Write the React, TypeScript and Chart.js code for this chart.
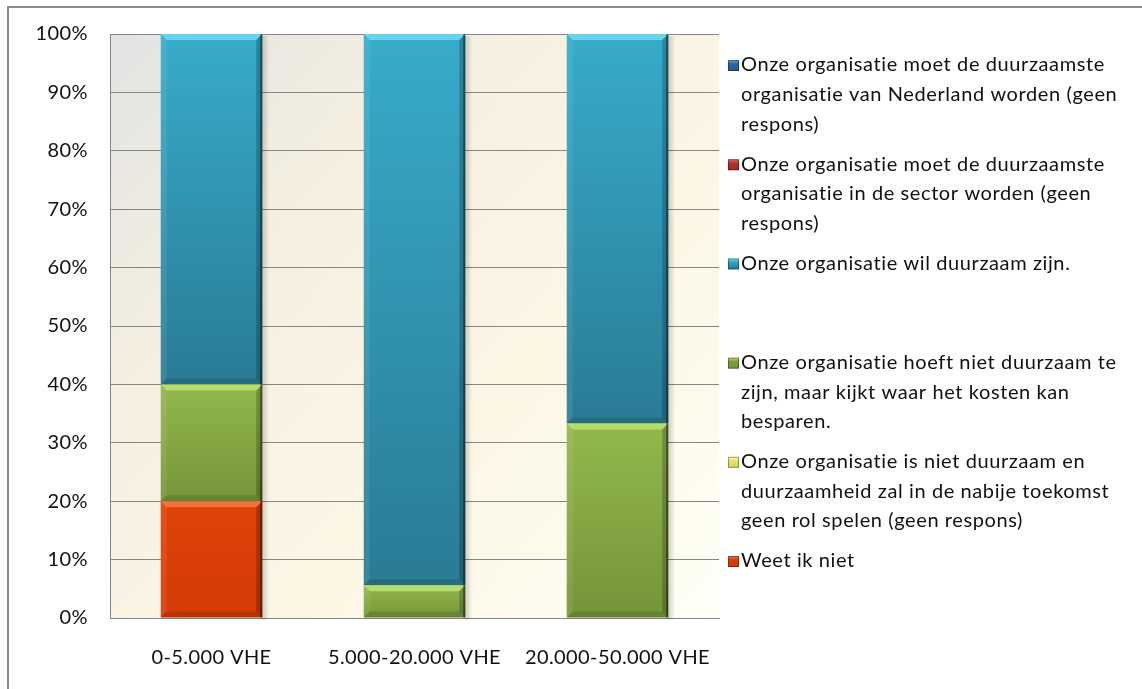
import React, { useEffect, useRef } from 'react';
import { Chart, registerables } from 'chart.js';

Chart.register(...registerables);

// ---- data ----
const categories = ['0-5.000 VHE', '5.000-20.000 VHE', '20.000-50.000 VHE'];
const weetIkNiet = [20, 0, 0];
const nietDuurzaam = [0, 0, 0];
const hoeftNiet = [20, 5.6, 33.3];
const wilDuurzaam = [60, 94.4, 66.7];
const sectorDuurzaamst = [0, 0, 0];
const nederlandDuurzaamst = [0, 0, 0];
const yTickValues = [0, 10, 20, 30, 40, 50, 60, 70, 80, 90, 100];

const labelWeet = ['Weet ik niet'];
const labelNiet = ['Onze organisatie is niet duurzaam en', 'duurzaamheid zal in de nabije toekomst', 'geen rol spelen (geen respons)'];
const labelHoeft = ['Onze organisatie hoeft niet duurzaam te', 'zijn, maar kijkt waar het kosten kan', 'besparen.'];
const labelWil = ['Onze organisatie wil duurzaam zijn.'];
const labelSector = ['Onze organisatie moet de duurzaamste', 'organisatie in de sector worden (geen', 'respons)'];
const labelNederland = ['Onze organisatie moet de duurzaamste', 'organisatie van Nederland worden (geen', 'respons)'];

type Style = { light: string; dark: string; hi: string; box: string };

const styleWeet: Style = { light: '#de4309', dark: '#d43a04', hi: '#f47a48', box: '#d23f0c' };
const styleNiet: Style = { light: '#eef07a', dark: '#d6d858', hi: '#fbfbb0', box: '#e4e46a' };
const styleHoeft: Style = { light: '#93b84e', dark: '#749538', hi: '#bde372', box: '#7e9e3e' };
const styleWil: Style = { light: '#37acca', dark: '#2a7b94', hi: '#6fdcf2', box: '#35a4c2' };
const styleSector: Style = { light: '#c0403a', dark: '#a02a26', hi: '#e07070', box: '#b3332e' };
const styleNederland: Style = { light: '#3a72b8', dark: '#285892', hi: '#70a0e0', box: '#2f64a8' };

// stack order bottom -> top
const series = [
  { lines: labelWeet, data: weetIkNiet, style: styleWeet },
  { lines: labelNiet, data: nietDuurzaam, style: styleNiet },
  { lines: labelHoeft, data: hoeftNiet, style: styleHoeft },
  { lines: labelWil, data: wilDuurzaam, style: styleWil },
  { lines: labelSector, data: sectorDuurzaamst, style: styleSector },
  { lines: labelNederland, data: nederlandDuurzaamst, style: styleNederland },
];

const FONT = '"Lato", "Open Sans", sans-serif';
const AXIS_FONT_SIZE = 20;
const LEGEND_FONT_SIZE = 20;

const backgroundPlugin = {
  id: 'plotBg',
  beforeDraw(chart: any) {
    const { ctx, chartArea: a } = chart;
    if (!a) return;
    const g = ctx.createLinearGradient(a.left, a.top, a.right, a.bottom);
    g.addColorStop(0, '#e3e3e3');
    g.addColorStop(0.3, '#f4efe0');
    g.addColorStop(0.65, '#fcf7e5');
    g.addColorStop(1, '#fffff6');
    ctx.save();
    ctx.fillStyle = g;
    ctx.fillRect(a.left, a.top, a.right - a.left, a.bottom - a.top);
    ctx.restore();
    (ctx as any).letterSpacing = '0.4px';
  },
  afterDraw(chart: any) {
    (chart.ctx as any).letterSpacing = '0px';
  },
};

const bevelPlugin = {
  id: 'bevel',
  afterDatasetsDraw(chart: any) {
    const { ctx } = chart;
    chart.data.datasets.forEach((ds: any, di: number) => {
      const meta = chart.getDatasetMeta(di);
      const st: Style = series[di].style;
      meta.data.forEach((el: any) => {
        const p = el.getProps(['x', 'y', 'base', 'width'], true);
        const left = p.x - p.width / 2;
        const right = p.x + p.width / 2;
        const top = Math.min(p.y, p.base);
        const bottom = Math.max(p.y, p.base);
        const h = bottom - top;
        if (h < 0.5) return;
        const b = Math.min(6, h / 2);
        ctx.save();
        const sg = ctx.createLinearGradient(right, 0, right + 7, 0);
        sg.addColorStop(0, 'rgba(0,0,0,0.18)');
        sg.addColorStop(1, 'rgba(0,0,0,0)');
        ctx.fillStyle = sg;
        ctx.fillRect(right, top + 2, 7, h);
        ctx.beginPath();
        ctx.moveTo(left, top);
        ctx.lineTo(right, top);
        ctx.lineTo(right - b, top + b);
        ctx.lineTo(left + b, top + b);
        ctx.closePath();
        ctx.fillStyle = st.hi;
        ctx.globalAlpha = 0.85;
        ctx.fill();
        ctx.globalAlpha = 1;
        ctx.beginPath();
        ctx.moveTo(left, top);
        ctx.lineTo(left + b, top + b);
        ctx.lineTo(left + b, bottom - b);
        ctx.lineTo(left, bottom);
        ctx.closePath();
        ctx.fillStyle = 'rgba(255,255,255,0.08)';
        ctx.fill();
        ctx.beginPath();
        ctx.moveTo(left, bottom);
        ctx.lineTo(left + b, bottom - b);
        ctx.lineTo(right - b, bottom - b);
        ctx.lineTo(right, bottom);
        ctx.closePath();
        ctx.fillStyle = 'rgba(0,0,0,0.12)';
        ctx.fill();
        ctx.beginPath();
        ctx.moveTo(right, top);
        ctx.lineTo(right, bottom);
        ctx.lineTo(right - b, bottom - b);
        ctx.lineTo(right - b, top + b);
        ctx.closePath();
        ctx.fillStyle = 'rgba(0,0,0,0.22)';
        ctx.fill();
        ctx.fillStyle = 'rgba(0,0,0,0.45)';
        ctx.fillRect(right - 2, top, 2, h);
        ctx.restore();
      });
    });
  },
};

const legendPlugin = {
  id: 'wrapLegend',
  afterDraw(chart: any) {
    const { ctx } = chart;
    const boxX = 728;
    const textX = 741;
    const firstY = 65;
    const slot = 99.2;
    const lineH = 29.6;
    ctx.save();
    ctx.font = `${LEGEND_FONT_SIZE}px ${FONT}`;
    (ctx as any).letterSpacing = '0.6px';
    ctx.textBaseline = 'middle';
    ctx.textAlign = 'left';
    const ordered = series.slice().reverse();
    ordered.forEach((s, i) => {
      const y0 = firstY + i * slot;
      const st = s.style;
      const g = ctx.createLinearGradient(0, y0 - 5, 0, y0 + 6);
      g.addColorStop(0, st.hi);
      g.addColorStop(0.35, st.box);
      g.addColorStop(1, st.dark);
      ctx.fillStyle = g;
      ctx.fillRect(boxX, y0 - 5, 11, 11);
      ctx.strokeStyle = 'rgba(0,0,0,0.35)';
      ctx.lineWidth = 1;
      ctx.strokeRect(boxX + 0.5, y0 - 4.5, 10, 10);
      ctx.fillStyle = '#111111';
      s.lines.forEach((line, li) => {
        ctx.fillText(line, textX, y0 + li * lineH);
      });
    });
    (ctx as any).letterSpacing = '0px';
    ctx.restore();
  },
};

export default function App() {
  const canvasRef = useRef<HTMLCanvasElement | null>(null);

  useEffect(() => {
    if (!canvasRef.current) return;
    const datasets = series.map((s, di) => ({
      label: s.lines.join(' '),
      data: s.data,
      borderWidth: 0,
      barPercentage: 0.5,
      categoryPercentage: 1,
      backgroundColor: (c: any) => {
        const chart = c.chart;
        const st = s.style;
        if (!chart.chartArea || c.type !== 'data') return st.box;
        const yScale = chart.scales.y;
        let start = 0;
        for (let k = 0; k < di; k++) start += series[k].data[c.dataIndex];
        const end = start + s.data[c.dataIndex];
        const yTop = yScale.getPixelForValue(end);
        const yBot = yScale.getPixelForValue(start);
        if (!(yBot - yTop > 0.5)) return st.box;
        const g = chart.ctx.createLinearGradient(0, yTop, 0, yBot);
        g.addColorStop(0, st.light);
        g.addColorStop(1, st.dark);
        return g;
      },
    }));

    const chart = new Chart(canvasRef.current, {
      type: 'bar',
      data: { labels: categories, datasets },
      options: {
        animation: false,
        responsive: false,
        maintainAspectRatio: false,
        layout: { padding: { top: 34, right: 423, bottom: 0, left: 0 } },
        plugins: {
          legend: { display: false },
          tooltip: { enabled: false },
        },
        scales: {
          x: {
            stacked: true,
            grid: { display: false, drawTicks: false },
            border: { display: true, color: '#868686', width: 1 },
            ticks: {
              color: '#111111',
              font: { family: FONT, size: AXIS_FONT_SIZE },
              padding: 28,
              maxRotation: 0,
              autoSkip: false,
            },
            afterFit: (scale: any) => {
              scale.height = 71;
            },
          },
          y: {
            stacked: true,
            min: 0,
            max: 100,
            afterBuildTicks: (scale: any) => {
              scale.ticks = yTickValues.map((v) => ({ value: v }));
            },
            grid: { color: '#868686', lineWidth: 1, drawTicks: false },
            border: { display: true, color: '#868686', width: 1 },
            ticks: {
              color: '#111111',
              font: { family: FONT, size: AXIS_FONT_SIZE },
              padding: 22,
              callback: (v: any) => `${v}%`,
            },
            afterFit: (scale: any) => {
              scale.width = 110;
            },
          },
        },
      },
      plugins: [backgroundPlugin, bevelPlugin, legendPlugin],
    });
    return () => chart.destroy();
  }, []);

  return (
    <div
      style={{
        position: 'fixed',
        left: 0,
        top: 0,
        width: 1142,
        height: 689,
        overflow: 'hidden',
        background: '#ffffff',
      }}
    >
      <div
        style={{
          position: 'absolute',
          left: 7,
          top: 6,
          width: 1300,
          height: 900,
          borderTop: '2px solid #8a8a8a',
          borderLeft: '2px solid #8a8a8a',
        }}
      />
      <canvas
        ref={canvasRef}
        width={1142}
        height={689}
        style={{ position: 'absolute', left: 0, top: 0, width: 1142, height: 689 }}
      />
    </div>
  );
}
